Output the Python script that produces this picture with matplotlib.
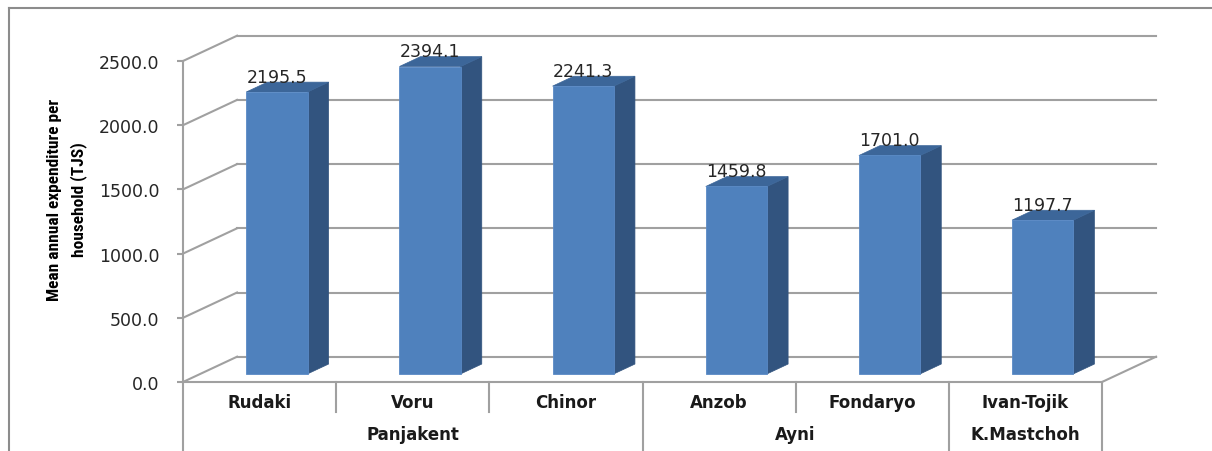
import matplotlib
matplotlib.use("Agg")
import matplotlib.pyplot as plt
from matplotlib.patches import Polygon, Rectangle
from matplotlib.lines import Line2D
from matplotlib import font_manager

categories = ["Rudaki", "Voru", "Chinor", "Anzob", "Fondaryo", "Ivan-Tojik"]
values = [2195.5, 2394.1, 2241.3, 1459.8, 1701.0, 1197.7]
groups = ["Panjakent", "Ayni", "K.Mastchoh"]
group_sizes = [3, 2, 1]
y_ticks = [0, 500, 1000, 1500, 2000, 2500]
y_title = "Mean annual expenditure per\nhousehold (TJS)"

W, H = 1212, 452
fig = plt.figure(figsize=(W / 100, H / 100), dpi=100)
fig.patch.set_facecolor("white")

# front plot area
L, R, T, B = 183, 1102, 62, 383
ax = fig.add_axes([L / W, (H - B) / H, (R - L) / W, (B - T) / H])
ax.set_xlim(-0.5, len(categories) - 0.5)
ax.set_ylim(0, 2500)
ax.patch.set_alpha(0)

# depth of the 3D box in data units
DX, DY = 0.353, 197.0
BAR_POS, BAR_DEPTH, BAR_W = 0.32, 0.39, 0.40

grid_c = "#A0A0A0"
lw = 1.5

xl, xr = -0.5, len(categories) - 0.5
for t in y_ticks:
    ax.add_line(Line2D([xl + DX, xr + DX], [t + DY, t + DY], color=grid_c, lw=lw, clip_on=False, zorder=1))
    ax.add_line(Line2D([xl, xl + DX], [t, t + DY], color=grid_c, lw=lw, clip_on=False, zorder=1))
ax.add_line(Line2D([xr, xr + DX], [0, DY], color=grid_c, lw=lw, clip_on=False, zorder=1))

front_c, side_c, top_c = "#4F81BD", "#32547F", "#3C6699"
for i, v in enumerate(values):
    ox, oy = BAR_POS * DX, BAR_POS * DY
    x0 = i - BAR_W / 2 + ox
    x1 = i + BAR_W / 2 + ox
    y0 = oy
    y1 = v + oy
    ddx, ddy = BAR_DEPTH * DX, BAR_DEPTH * DY
    ax.add_patch(Polygon([[x1, y0], [x1 + ddx, y0 + ddy], [x1 + ddx, y1 + ddy], [x1, y1]],
                         closed=True, facecolor=side_c, edgecolor=side_c, lw=0.5, clip_on=False, zorder=3))
    ax.add_patch(Polygon([[x0, y1], [x1, y1], [x1 + ddx, y1 + ddy], [x0 + ddx, y1 + ddy]],
                         closed=True, facecolor=top_c, edgecolor=top_c, lw=0.5, clip_on=False, zorder=3))
    ax.add_patch(Rectangle((x0, y0), x1 - x0, y1 - y0, facecolor=front_c, edgecolor="#5A8AC6",
                           lw=0.6, clip_on=False, zorder=4))
    ax.text(i + ox, y1 + ddy - 30, f"{v:.1f}", ha="center", va="bottom", fontsize=12.5,
            color="#262626", family="DejaVu Sans", zorder=5)

for s in ["top", "right"]:
    ax.spines[s].set_visible(False)
ax.spines["left"].set_color(grid_c)
ax.spines["left"].set_linewidth(lw)
ax.spines["bottom"].set_color(grid_c)
ax.spines["bottom"].set_linewidth(lw)
ax.set_yticks(y_ticks)
ax.set_yticklabels([f"{t:.1f}" for t in y_ticks])
ax.tick_params(axis="y", direction="out", length=4, width=lw, color=grid_c,
               labelsize=12.5, labelcolor="#262626", pad=13)
ax.set_xticks([])

y_cat = -155
y_grp = -405
for i, c in enumerate(categories):
    ax.text(i, y_cat, c, ha="center", va="center", fontsize=12, fontweight="bold", color="#1a1a1a")
bounds = [-0.5]
for g in group_sizes:
    bounds.append(bounds[-1] + g)
grp_bounds = set(bounds)
for k in range(len(categories) + 1):
    xb = k - 0.5
    if xb in grp_bounds:
        ax.add_line(Line2D([xb, xb], [0, -560], color=grid_c, lw=lw, clip_on=False))
    else:
        ax.add_line(Line2D([xb, xb], [0, -235], color=grid_c, lw=lw, clip_on=False))
for gi, g in enumerate(groups):
    cx = (bounds[gi] + bounds[gi + 1]) / 2
    ax.text(cx, y_grp, g, ha="center", va="center", fontsize=12, fontweight="bold", color="#1a1a1a")

# y title: pick a narrow family if available
avail = {f.name for f in font_manager.fontManager.ttflist}
fam = "DejaVu Sans"
for cand in ["Liberation Sans Narrow", "Roboto Condensed", "Open Sans Condensed", "DejaVu Sans"]:
    if cand in avail:
        fam = cand
        break
ttl = fig.text(67 / W, 1 - 200 / H, y_title, rotation=90, ha="center", va="center",
               fontsize=12, fontweight="bold", family=fam, stretch="condensed",
               color="black", linespacing=1.6)
renderer = fig.canvas.get_renderer()
ext = ttl.get_window_extent(renderer)
ttl.set_fontsize(12 * 202.0 / ext.height)

fig.add_artist(Line2D([9 / W, 9 / W], [0, 1 - 9 / H], color="#8c8c8c", lw=1.5, transform=fig.transFigure))
fig.add_artist(Line2D([9 / W, 1], [1 - 9 / H, 1 - 9 / H], color="#8c8c8c", lw=1.5, transform=fig.transFigure))

fig.savefig("out.png", dpi=100, facecolor="white")
